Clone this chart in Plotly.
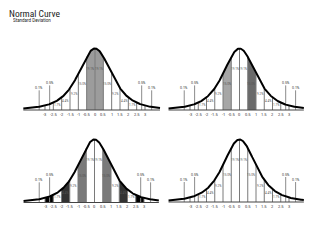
import numpy as np
import plotly.graph_objects as go

# ---------------- data ----------------
tick_values = [-3, -2.5, -2, -1.5, -1, -0.5, 0, 0.5, 1, 1.5, 2, 2.5, 3]
tick_labels = ["-3", "-2.5", "-2", "-1.5", "-1", "-0.5", "0", "0.5", "1", "1.5", "2", "2.5", "3"]
band_starts = [-2.5, -2, -1.5, -1, -0.5, 0, 0.5, 1, 1.5, 2]
band_labels = ["1.7%", "4.4%", "9.2%", "15.0%", "19.1%", "19.1%", "15.0%", "9.2%", "4.4%", "1.7%"]
tail_labels = ["0.1%", "0.5%", "0.5%", "0.1%"]
tail_x = [-3.35, -2.72, 2.8, 3.4]

# shaded bands for each of the four panels: (start, end, colour)
shaded_tl = [(-0.5, 0.0, "#9c9c9c"), (0.0, 0.5, "#9c9c9c")]
shaded_tr = [(-1.0, -0.5, "#a6a6a6"), (0.5, 1.0, "#6a6a6a")]
shaded_bl = [(-3.0, -2.5, "#000000"), (-2.0, -1.5, "#333333"), (-1.0, -0.5, "#7a7a7a"),
             (0.5, 1.0, "#7a7a7a"), (1.5, 2.0, "#333333"), (2.5, 3.0, "#000000")]
shaded_br = []

W, H = 330, 240

# panel pixel anchors: zero x, px per sigma, baseline y, peak y, domain px
panels = [
    dict(zero=95.0, sig=16.67, base=110.0, peak=48.5, px=(5, 165), py=(24, 118), shaded=shaded_tl),
    dict(zero=239.5, sig=16.5, base=110.0, peak=48.5, px=(165, 325), py=(24, 118), shaded=shaded_tr),
    dict(zero=94.5, sig=16.5, base=202.5, peak=139.5, px=(5, 165), py=(122, 212), shaded=shaded_bl),
    dict(zero=239.5, sig=16.5, base=202.0, peak=139.5, px=(165, 325), py=(122, 212), shaded=shaded_br),
]


def curve(x):
    x = np.asarray(x, dtype=float)
    return (1 + (x / 1.05) ** 2 / 3) ** -2


fig = go.Figure()
annotations = []
layout_axes = {}

for i, p in enumerate(panels):
    n = "" if i == 0 else str(i + 1)
    xa, ya = "x" + n, "y" + n
    hpx = p["base"] - p["peak"]
    xr = [(p["px"][0] - p["zero"]) / p["sig"], (p["px"][1] - p["zero"]) / p["sig"]]
    yr = [(p["base"] - p["py"][1]) / hpx, (p["base"] - p["py"][0]) / hpx]
    layout_axes["xaxis" + n] = dict(domain=[p["px"][0] / W, p["px"][1] / W], range=xr,
                                    visible=False, fixedrange=True, anchor=ya)
    layout_axes["yaxis" + n] = dict(domain=[1 - p["py"][1] / H, 1 - p["py"][0] / H], range=yr,
                                    visible=False, fixedrange=True, anchor=xa)

    # shaded bands
    for (a, b, col) in p["shaded"]:
        xs = np.linspace(a, b, 30)
        fx = list(xs) + [b, a]
        fy = list(curve(xs)) + [0, 0]
        fig.add_trace(go.Scatter(x=fx, y=fy, fill="toself", fillcolor=col, mode="lines",
                                 line=dict(width=0), xaxis=xa, yaxis=ya, hoverinfo="skip",
                                 showlegend=False))

    # vertical lines
    vx, vy = [], []
    for t in tick_values:
        vx += [t, t, None]
        vy += [0, float(curve(t)), None]
    fig.add_trace(go.Scatter(x=vx, y=vy, mode="lines", line=dict(color="#7a7a7a", width=1),
                             xaxis=xa, yaxis=ya, hoverinfo="skip", showlegend=False))

    # tail pointer lines
    tx, ty = [], []
    tops = [0.32, 0.40, 0.40, 0.32]
    for x0, top in zip(tail_x, tops):
        tx += [x0, x0, None]
        ty += [0, top, None]
    fig.add_trace(go.Scatter(x=tx, y=ty, mode="lines", line=dict(color="#8c8c8c", width=1),
                             xaxis=xa, yaxis=ya, hoverinfo="skip", showlegend=False))

    # baseline
    fig.add_trace(go.Scatter(x=[-4.3, 3.9], y=[0, 0], mode="lines",
                             line=dict(color="#444444", width=1),
                             xaxis=xa, yaxis=ya, hoverinfo="skip", showlegend=False))

    # curve
    cx = np.linspace(-4.3, 3.9, 300)
    fig.add_trace(go.Scatter(x=cx, y=curve(cx), mode="lines", line=dict(color="#000000", width=2),
                             xaxis=xa, yaxis=ya, hoverinfo="skip", showlegend=False))

    # tick labels
    for t, lab in zip(tick_values, tick_labels):
        annotations.append(dict(x=t, y=-4.0 / hpx, xref=xa, yref=ya, text=lab, showarrow=False,
                                font=dict(size=4, color="#333333", family="Roboto")))

    # band labels
    for s, lab in zip(band_starts, band_labels):
        mid = s + 0.25
        outer = s if s < 0 else s + 0.5
        yy = float(curve(outer)) * 0.72 if abs(mid) > 0.5 else float(curve(outer)) * 0.78
        annotations.append(dict(x=mid, y=yy, xref=xa, yref=ya, text=lab, showarrow=False,
                                font=dict(size=3, color="#555555", family="Roboto")))

    # tail labels
    for x0, top, lab in zip(tail_x, tops, tail_labels):
        annotations.append(dict(x=x0, y=top + 0.04, xref=xa, yref=ya, text=lab, showarrow=False,
                                font=dict(size=3.5, color="#333333", family="Roboto")))

annotations.append(dict(x=7 / W, y=1 - 12.5 / H, xref="paper", yref="paper", text="Normal Curve",
                        showarrow=False, xanchor="left", yanchor="middle", height=8,
                        font=dict(size=9.5, color="#222222",
                                  family="Liberation Sans Narrow, Roboto Condensed, Lato")))
annotations.append(dict(x=11 / W, y=1 - 20 / H, xref="paper", yref="paper", text="Standard Deviation",
                        showarrow=False, xanchor="left", yanchor="middle", height=4,
                        font=dict(size=4.5, color="#222222", family="Roboto")))

fig.update_layout(width=W, height=H, margin=dict(l=0, r=0, t=0, b=0),
                  paper_bgcolor="white", plot_bgcolor="rgba(0,0,0,0)",
                  annotations=annotations, **layout_axes)

fig.write_html("out.html")
